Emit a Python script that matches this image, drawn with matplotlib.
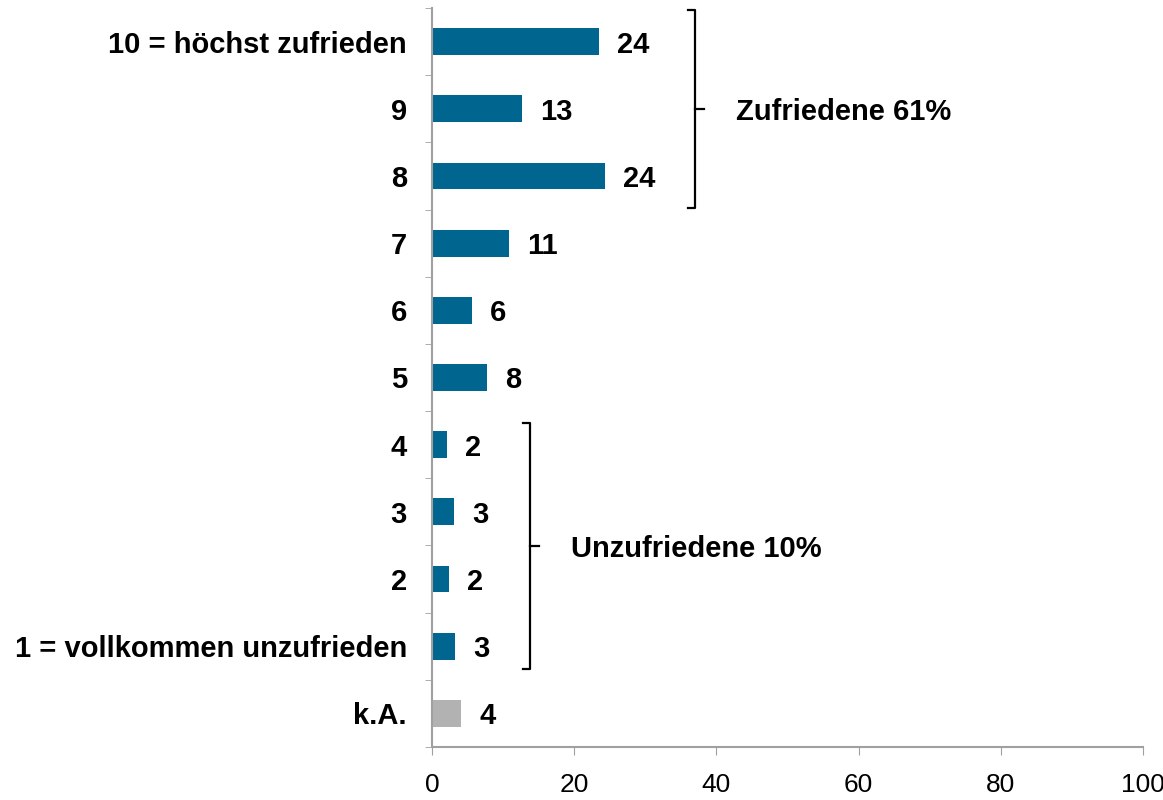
import matplotlib
matplotlib.use("Agg")
import matplotlib.pyplot as plt
import numpy as np

categories = ["10 = höchst zufrieden", "9", "8", "7", "6", "5", "4", "3", "2",
              "1 = vollkommen unzufrieden", "k.A."]
values = [23.5, 12.7, 24.3, 10.8, 5.6, 7.7, 2.1, 3.1, 2.4, 3.3, 4.1]
labels = ["24", "13", "24", "11", "6", "8", "2", "3", "2", "3", "4"]
colors = ["#00668F"] * 10 + ["#B2B2B2"]
xticks = [0, 20, 40, 60, 80, 100]

plt.rcParams['font.family'] = ['Liberation Sans', 'DejaVu Sans']

fig = plt.figure(figsize=(11.63, 8), dpi=100)
ax = fig.add_axes([432/1163, 1 - 747/800, (1143 - 432)/1163, (747 - 8)/800])

y = np.arange(len(categories))
ax.barh(y, values, height=0.4, color=colors)
ax.set_ylim(len(categories) - 0.5, -0.5)
ax.set_xlim(0, 100)

for yi, v, lab in zip(y, values, labels):
    ax.annotate(lab, (v, yi), xytext=(13, 0), textcoords="offset points",
                ha="left", va="center_baseline", fontsize=21, fontweight="bold")

ax.set_yticks(y)
ax.set_yticklabels(categories, fontsize=21, fontweight="bold", va="center_baseline")
ax.set_yticks(np.arange(len(categories) + 1) - 0.5, minor=True)
ax.tick_params(axis="y", which="major", length=0, pad=18)
ax.tick_params(axis="y", which="minor", length=5, color="#A0A0A0", direction="out")
ax.set_xticks(xticks)
ax.set_xticklabels([str(t) for t in xticks], fontsize=19)
ax.tick_params(axis="x", length=6, color="#A0A0A0", direction="out", pad=13)

for s in ["top", "right"]:
    ax.spines[s].set_visible(False)
for s in ["left", "bottom"]:
    ax.spines[s].set_color("#A0A0A0")
    ax.spines[s].set_linewidth(1.5)

def brace(x, y0, y1, text):
    ym = (y0 + y1) / 2
    ax.plot([x - 1.0, x, x, x - 1.0], [y0, y0, y1, y1], color="black", lw=1.6,
            clip_on=False, solid_joinstyle="round")
    ax.plot([x, x + 1.2], [ym, ym], color="black", lw=1.6, clip_on=False)
    ax.text(x + 5.8, ym, text, ha="left", va="center_baseline", fontsize=21,
            fontweight="bold")

brace(37.0, -0.47, 2.47, "Zufriedene 61%")
brace(13.8, 5.68, 9.34, "Unzufriedene 10%")

fig.savefig("out.png", dpi=100)
